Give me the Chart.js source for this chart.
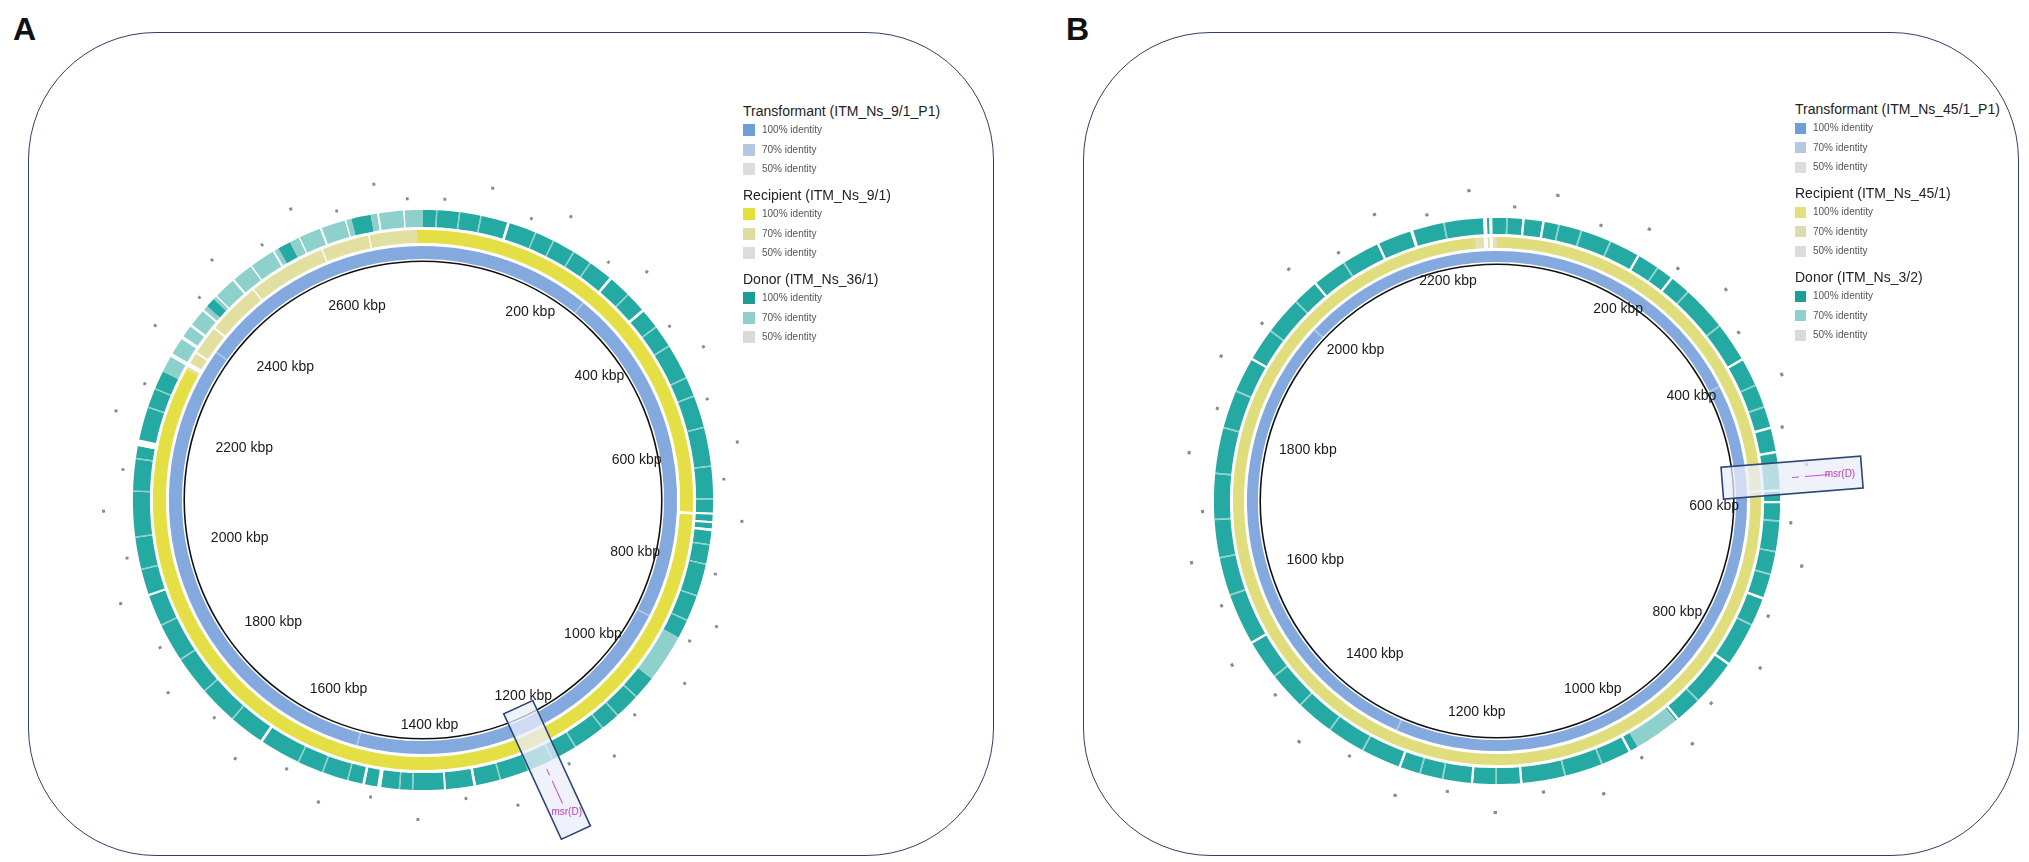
<!DOCTYPE html>
<html>
<head>
<meta charset="utf-8">
<script src="https://cdn.jsdelivr.net/npm/chart.js@4.4.1/dist/chart.umd.min.js"></script>
<style>
  body { margin: 0; width: 2029px; height: 862px; overflow: hidden; background: #fff; position: relative;
         font-family: "Liberation Sans", Arial, sans-serif; }
  .panel { position: absolute; border: 1.6px solid #2f3f66; border-radius: 128px; box-sizing: border-box; }
  .tag { position: absolute; font-weight: bold; font-size: 32px; line-height: 32px; color: #111; }
  canvas { position: absolute; }
  .lg { position: absolute; }
  .lg div { position: absolute; white-space: nowrap; }
  .lg .t { font-size: 14px; line-height: 16px; color: #222; }
  .lg .i { font-size: 10px; line-height: 12px; color: #555; }
  .lg .s { width: 12px; height: 12px; }
</style>
</head>
<body>
<div class="panel" style="left:28px;top:32px;width:966px;height:824px"></div>
<div class="panel" style="left:1083px;top:32px;width:936px;height:824px"></div>
<div class="tag" style="left:13px;top:13px">A</div>
<div class="tag" style="left:1066px;top:13px">B</div>
<canvas id="ringA" width="760" height="760" style="left:43px;top:120px"></canvas>
<canvas id="ringB" width="760" height="760" style="left:1117px;top:121px"></canvas>
<div class="lg" id="legA" style="left:743px;top:103px"></div>
<div class="lg" id="legB" style="left:1795px;top:101px"></div>

<script>
// genome sizes (kbp) and tick labels
const genomeA = 2770
const genomeB = 2300
const ticksA = [200, 400, 600, 800, 1000, 1200, 1400, 1600, 1800, 2000, 2200, 2400, 2600]
const ticksB = [200, 400, 600, 800, 1000, 1200, 1400, 1600, 1800, 2000, 2200]

// msr(D) position (kbp)
const msrA = 1195
const msrB = 546

// ring regions [start kbp, end kbp, identity] ; the rest of the ring is 100%
const blueA = [[300, 302, 70], [900, 902, 70], [1500, 1502, 70], [2350, 2352, 70]]
const yellowA = [[712, 716, 0], [2300, 2760, 70], [2305, 2312, 0], [2330, 2333, 0], [2380, 2383, 0],
  [2470, 2472, 0], [2600, 2602, 0], [2680, 2682, 0]]
const tealA = [[130, 134, 0], [308, 312, 0], [377, 381, 0], [712, 715, 0], [725, 728, 0], [736, 740, 0],
  [910, 985, 70], [1304, 1308, 0], [1350, 1353, 0], [1449, 1455, 0], [1474, 1478, 0], [1643, 1647, 0],
  [1929, 1932, 0], [2160, 2170, 0], [2280, 2770, 70], [2400, 2415, 100], [2540, 2560, 100], [2660, 2690, 100],
  [2305, 2311, 0], [2337, 2342, 0], [2360, 2364, 0], [2390, 2393, 0], [2420, 2422, 0], [2455, 2458, 0],
  [2490, 2492, 0], [2530, 2533, 0], [2575, 2577, 0], [2610, 2613, 0], [2650, 2652, 0], [2700, 2703, 0],
  [2740, 2742, 0]]
const tealLinesA = [20, 55, 88, 175, 205, 240, 270, 345, 410, 445, 500, 530, 580, 640, 690, 760, 790, 840,
  880, 1020, 1060, 1090, 1140, 1180, 1220, 1265, 1400, 1420, 1500, 1540, 1580, 1700, 1760, 1820, 1880,
  1970, 2020, 2090, 2140, 2220, 2250, 2320, 2375, 2435, 2470, 2515, 2595, 2630, 2720, 2760]
const dotsA = [30, 95, 160, 210, 290, 340, 420, 470, 540, 610, 660, 720, 800, 870, 905, 960, 1040, 1100,
  1160, 1250, 1320, 1390, 1460, 1530, 1590, 1660, 1720, 1790, 1850, 1930, 1990, 2060, 2120, 2200, 2250,
  2330, 2400, 2450, 2520, 2580, 2640, 2700, 2745]

const blueB = [[400, 402, 70], [1300, 1302, 70], [2000, 2002, 70]]
const yellowB = [[2270, 2300, 70], [2282, 2287, 0], [2290, 2294, 0], [560, 563, 0]]
const tealB = [[33, 36, 0], [59, 62, 0], [190, 193, 0], [242, 245, 0], [382, 385, 0], [478, 481, 0],
  [510, 513, 0], [560, 563, 0], [575, 578, 0], [702, 705, 0], [798, 801, 0], [895, 898, 0], [900, 960, 70],
  [970, 973, 0], [1117, 1120, 0], [1181, 1184, 0], [1277, 1280, 0], [1532, 1535, 0], [1916, 1919, 0],
  [2044, 2047, 0], [2140, 2143, 0], [2186, 2190, 0], [2282, 2287, 0], [2290, 2294, 0]]
const tealLinesB = [12, 80, 110, 150, 220, 270, 330, 420, 450, 600, 640, 670, 740, 860, 1010, 1060, 1150,
  1220, 1250, 1330, 1380, 1430, 1480, 1600, 1650, 1700, 1760, 1820, 1870, 1960, 2010, 2090, 2230]
const dotsB = [20, 70, 130, 185, 240, 300, 350, 420, 480, 530, 600, 650, 720, 780, 850, 900, 960, 1020,
  1090, 1150, 1210, 1270, 1340, 1400, 1460, 1520, 1590, 1650, 1710, 1780, 1840, 1900, 1960, 2030, 2090,
  2150, 2210, 2265]

// legend
const legendA = ['Transformant (ITM_Ns_9/1_P1)', 'Recipient (ITM_Ns_9/1)', 'Donor (ITM_Ns_36/1)']
const legendB = ['Transformant (ITM_Ns_45/1_P1)', 'Recipient (ITM_Ns_45/1)', 'Donor (ITM_Ns_3/2)']
const identities = ['100% identity', '70% identity', '50% identity']

const blueCol = { 100: '#84a9de', 70: '#a9c3e6', 50: '#dcdcdc', 0: '#ffffff' }
const yellowColA = { 100: '#e4df45', 70: '#e2e0a0', 50: '#dcdcdc', 0: '#ffffff' }
const yellowColB = { 100: '#e0dd7c', 70: '#e2e1b6', 50: '#dcdcdc', 0: '#ffffff' }
const tealCol = { 100: '#25aaa3', 70: '#8dd0cc', 50: '#dadada', 0: '#ffffff' }

function ring(genome, regions, colors, base) {
  const lv = new Array(genome).fill(base)
  regions.forEach(([s, e, l]) => { for (let i = s; i < e && i < genome; i++) lv[i] = l })
  const data = [], bg = []
  let start = 0
  for (let i = 1; i <= genome; i++) {
    if (i === genome || lv[i] !== lv[start]) {
      data.push(i - start)
      bg.push(colors[lv[start]])
      start = i
    }
  }
  return { data, bg }
}

function ds(r, weight) {
  return { data: r.data, backgroundColor: r.bg, weight: weight, borderWidth: 0 }
}
function spacer(weight) {
  return { data: [1], backgroundColor: ['rgba(0,0,0,0)'], weight: weight, borderWidth: 0 }
}

// kbp labels inside the backbone
const kbpLabels = {
  id: 'kbpLabels',
  afterDatasetsDraw(chart, args, opts) {
    const ctx = chart.ctx
    const arc = chart.getDatasetMeta(chart.data.datasets.length - 1).data[0]
    const { x, y, innerRadius } = arc.getProps(['x', 'y', 'innerRadius'], true)
    ctx.save()
    ctx.font = '14px "Liberation Sans", Arial, sans-serif'
    ctx.fillStyle = '#1a1a1a'
    ctx.textAlign = 'center'
    ctx.textBaseline = 'middle'
    opts.ticks.forEach(v => {
      const a = v / opts.genome * 2 * Math.PI
      const text = v + ' kbp'
      const w = ctx.measureText(text).width / 2
      const ext = w * Math.abs(Math.sin(a)) + 7 * Math.abs(Math.cos(a))
      const r = innerRadius - opts.pad - ext
      ctx.fillText(text, x + opts.dx + r * Math.sin(a), y + opts.dy - r * Math.cos(a))
    })
    ctx.restore()
  }
}

// msr(D) annotation box
const msrBox = {
  id: 'msrBox',
  afterDatasetsDraw(chart, args, opts) {
    const ctx = chart.ctx
    const arc = chart.getDatasetMeta(0).data[0]
    const { x, y } = arc.getProps(['x', 'y'], true)
    const a = opts.pos / opts.genome * 2 * Math.PI
    ctx.save()
    ctx.translate(x, y)
    ctx.rotate(a)
    // box along the radius (up = outward)
    ctx.fillStyle = 'rgba(234,236,250,0.75)'
    ctx.strokeStyle = '#2c4775'
    ctx.lineWidth = 1.6
    ctx.beginPath()
    ctx.rect(-16, -opts.r1, 32, opts.r1 - opts.r0)
    ctx.fill()
    ctx.stroke()
    ctx.strokeStyle = '#d24fc8'
    ctx.lineWidth = 1
    ctx.beginPath()
    ctx.moveTo(0, -opts.l0); ctx.lineTo(0, -opts.l0 - 7)
    ctx.moveTo(0, -opts.l0 - 13); ctx.lineTo(0, -opts.l1)
    ctx.stroke()
    ctx.restore()
    // label, kept horizontal
    const tr = opts.tr
    ctx.save()
    ctx.font = '10px "Liberation Sans", Arial, sans-serif'
    ctx.fillStyle = '#c23cc0'
    ctx.textAlign = 'center'
    ctx.textBaseline = 'middle'
    ctx.fillText('msr(D)', x + tr * Math.sin(a), y - tr * Math.cos(a))
    ctx.restore()
  }
}

function makeChart(id, genome, blue, yellow, yellowCol, teal, lines, dots, ticks, msr, sizes) {
  const dotRegs = dots.map(p => [p, p + 4, 100])
  const clear = { 100: '#8a8a8a', 0: 'rgba(0,0,0,0)' }
  const dotsIn = ring(genome, dotRegs.filter((d, i) => i % 2 === 0), clear, 0)
  const dotsOut = ring(genome, dotRegs.filter((d, i) => i % 2 === 1), clear, 0)
  const tealRegs = lines.map(p => [p, p + 2, 70]).concat(teal)
  const s = sizes
  const datasets = [
    ds(dotsOut, 3), spacer(s.dotGap),
    ds(dotsIn, 3), spacer(s.outGap),
    ds(ring(genome, tealRegs, tealCol, 100), s.teal), spacer(3),
    ds(ring(genome, yellow, yellowCol, 100), s.yellow), spacer(3),
    ds(ring(genome, blue, blueCol, 100), s.blue), spacer(1.5),
    { data: [genome], backgroundColor: ['#111'], weight: 1.6, borderWidth: 0 }
  ]
  const total = datasets.reduce((t, d) => t + d.weight, 0)
  const outer = s.inner + total
  const pad = 380 - outer
  return new Chart(document.getElementById(id), {
    type: 'doughnut',
    data: { datasets },
    options: {
      responsive: false,
      animation: false,
      cutout: (s.inner / outer * 100) + '%',
      layout: { padding: pad },
      plugins: {
        legend: { display: false },
        tooltip: { enabled: false },
        kbpLabels: { ticks: ticks, genome: genome, pad: s.labelPad, dx: s.labelDx, dy: s.labelDy },
        msrBox: { pos: msr, genome: genome, r0: s.inner - 10, r1: 366, l0: 296, l1: 334, tr: 344 }
      }
    },
    plugins: [kbpLabels, msrBox]
  })
}

makeChart('ringA', genomeA, blueA, yellowA, yellowColA, tealA, tealLinesA, dotsA, ticksA, msrA,
  { inner: 238, blue: 13, yellow: 13, teal: 17, outGap: 10, dotGap: 15, labelPad: 8, labelDx: 14, labelDy: 3 })
makeChart('ringB', genomeB, blueB, yellowB, yellowColB, tealB, tealLinesB, dotsB, ticksB, msrB,
  { inner: 236, blue: 11, yellow: 11, teal: 16, outGap: 10, dotGap: 14, labelPad: 3, labelDx: 10, labelDy: -9 })

function legend(id, titles, cols, swatch, textX) {
  const el = document.getElementById(id)
  let html = ''
  titles.forEach((t, g) => {
    const top = g * 84
    html += '<div class="t" style="left:0;top:' + top + 'px">' + t + '</div>'
    identities.forEach((txt, i) => {
      const cy = top + 27 + i * 19.5
      const c = cols[g][[100, 70, 50][i]]
      html += '<div class="s" style="left:0;top:' + (cy - swatch / 2) + 'px;width:' + swatch + 'px;height:' + swatch + 'px;background:' + c + '"></div>'
      html += '<div class="i" style="left:' + textX + 'px;top:' + (cy - 6) + 'px">' + txt + '</div>'
    })
  })
  el.innerHTML = html
}
legend('legA', legendA, [{ 100: '#6e9fd9', 70: '#b2c8e3', 50: '#dcdcdc' }, { 100: '#e3df3c', 70: '#dedc9e', 50: '#dcdcdc' },
  { 100: '#1b9e97', 70: '#8fcfcc', 50: '#dadada' }], 12, 19)
legend('legB', legendB, [{ 100: '#6e9fd9', 70: '#b2c8e3', 50: '#dcdcdc' }, { 100: '#e3e07c', 70: '#dcdcae', 50: '#dcdcdc' },
  { 100: '#1b9e97', 70: '#8fcfcc', 50: '#dadada' }], 11, 18)
</script>
</body>
</html>
